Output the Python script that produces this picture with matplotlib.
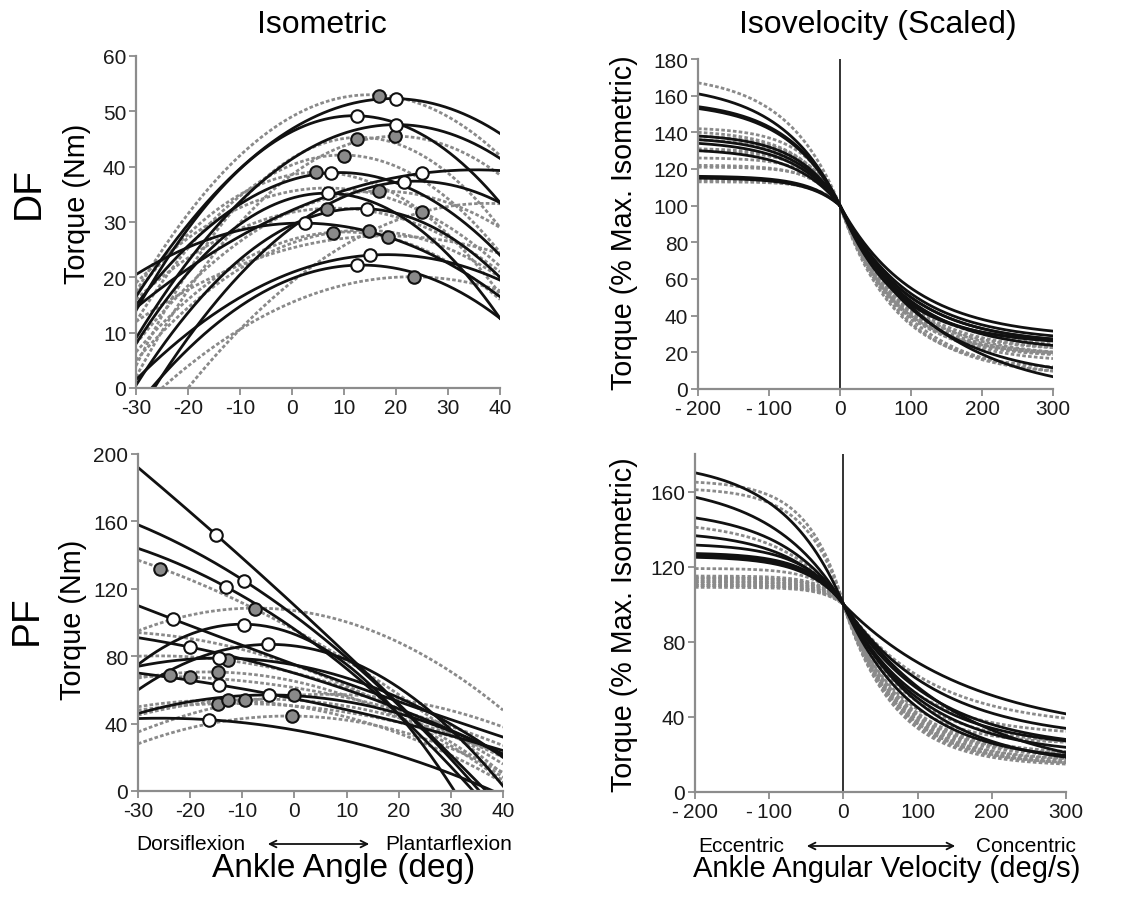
import numpy as np
import matplotlib
matplotlib.use('Agg')
import matplotlib.pyplot as plt

plt.rcParams['font.family'] = ['Liberation Sans', 'DejaVu Sans']
plt.rcParams['axes.unicode_minus'] = False

# ---- isometric curves: three points (x, torque) ----
df_solid = [
    [(-30, 16.5), (20, 52.3), (40, 46.0)],
    [(-30, 14.0), (12.5, 49.2), (40, 33.5)],
    [(-30, 9.0), (20, 47.6), (40, 41.5)],
    [(-30, 15.0), (7.5, 38.9), (40, 24.0)],
    [(-30, 14.5), (25, 38.8), (40, 39.3)],
    [(-26.5, 0), (21.5, 37.3), (40, 33.5)],
    [(-30, 8.0), (7, 35.2), (40, 12.6)],
    [(-30, 0.5), (14.5, 32.4), (40, 20.0)],
    [(-30, 20.5), (2.5, 29.8), (40, 16.5)],
    [(-30, 1.5), (15, 24.0), (40, 19.5)],
    [(-27, 0), (12.5, 22.2), (40, 12.6)],
]
df_dashed = [
    [(-30, 17.4), (15, 53.0), (40, 42.0)],
    [(-30, 4.0), (13, 45.3), (40, 29.0)],
    [(-30, 2.0), (20, 45.5), (40, 38.5)],
    [(-30, 12.0), (12, 42.0), (40, 24.5)],
    [(-30, 17.0), (5, 39.0), (40, 17.0)],
    [(-30, 8.0), (17, 35.6), (40, 29.0)],
    [(-30, 16.0), (8, 32.5), (40, 21.0)],
    [(-20, 0), (25, 31.8), (40, 33.3)],
    [(-30, 6.5), (10, 28.2), (40, 16.0)],
    [(-30, 5.0), (14, 28.5), (40, 20.0)],
    [(-30, 12.0), (18, 27.5), (40, 24.3)],
    [(-25, 0), (23, 20.1), (40, 17.6)],
    [(-30, 19.0), (10, 36.0), (40, 22.0)],
]
df_open_x = [20, 12.5, 20, 7.5, 21.5, 25, 7, 14.5, 2.5, 15, 12.5]
df_open_y = [52.3, 49.2, 47.6, 38.9, 37.3, 38.8, 35.2, 32.4, 29.8, 24.0, 22.2]
df_fill_x = [16.7, 12.5, 19.8, 10, 4.7, 16.8, 6.8, 25, 7.9, 14.8, 18.5, 23.5]
df_fill_y = [52.8, 45.0, 45.5, 42.0, 39.0, 35.6, 32.4, 31.8, 28.1, 28.3, 27.2, 20.0]

pf_solid = [
    [(-30, 192), (-15, 152), (36.8, 0)],
    [(-30, 158), (-9.7, 124.9), (35.5, 0)],
    [(-30, 144), (-13.2, 121.3), (34.3, 0)],
    [(-30, 110), (-23.3, 102), (40, 32)],
    [(-30, 75), (-10, 99), (30.7, 0)],
    [(-30, 91), (-20, 85.4), (40, 22)],
    [(-30, 60), (-5.1, 87), (40, 3)],
    [(-30, 74), (-14.5, 78.9), (40, 20)],
    [(-30, 70), (-14.5, 63), (40, 24)],
    [(-30, 46), (-5, 57), (40, 21.4)],
    [(-30, 43), (-16.4, 42.3), (38.1, 0)],
]
pf_dashed = [
    [(-30, 137), (-7.6, 108), (40, 10)],
    [(-30, 95), (-3, 108), (40, 48)],
    [(-30, 80), (-12.7, 77.5), (40, 16)],
    [(-30, 67), (-14.7, 70.6), (40, 6)],
    [(-30, 48), (-14.7, 51.8), (40, 22)],
    [(-30, 45), (-9.5, 54.3), (40, 20)],
    [(-30, 35), (-0.1, 56.7), (40, 38)],
    [(-30, 28), (-0.5, 44.5), (40, 11)],
    [(-30, 94), (-10, 84), (40, 8)],
    [(-30, 68), (-20.1, 67.6), (40, 27)],
    [(-30, 50), (-12.7, 53.8), (40, 5)],
]
pf_open_x = [-15, -9.7, -13.2, -23.3, -9.7, -20, -5.1, -14.5, -14.5, -4.9, -16.4]
pf_open_y = [152, 124.9, 121.3, 102, 98.8, 85.4, 87, 78.9, 63, 56.7, 42.3]
pf_fill_x = [-25.7, -7.6, -12.7, -23.8, -20.1, -14.7, -14.7, -12.7, -9.5, -0.1, -0.5]
pf_fill_y = [131.8, 108.1, 77.5, 68.6, 67.6, 70.6, 51.8, 53.8, 54.3, 56.7, 44.5]

# ---- isovelocity curves: % of isometric read at -200, -100, 100, 200 deg/s ----
dfv_solid_m200 = [161, 154, 153, 138, 136, 134, 130, 116, 115]
dfv_solid_m100 = [147, 143, 142, 132, 130, 128, 125, 114.5, 113.5]
dfv_solid_p100 = [55, 50, 48, 46, 45, 44, 47, 50, 52]
dfv_solid_p200 = [38, 33, 30, 31, 19, 21, 31, 33, 35]
dfv_dash_m200 = [167, 142, 140, 138, 136, 131, 130, 126, 122, 121, 114, 113]
dfv_dash_m100 = [153, 137, 134, 133, 131, 128, 127, 124, 120.5, 120, 113, 112.5]
dfv_dash_p100 = [44, 40, 42, 38, 45, 41, 36, 43, 39, 47, 35, 40]
dfv_dash_p200 = [26, 22, 25, 17, 28, 24, 16, 27, 23, 30, 17, 24]

pfv_solid_m200 = [170, 157, 146, 136.5, 131.5, 127, 125, 126]
pfv_solid_m100 = [154, 142, 135, 129, 127, 124, 122, 123]
pfv_solid_p100 = [69, 60, 55, 52, 50, 56, 45, 48]
pfv_solid_p200 = [51.5, 42, 36, 34, 31, 33, 26, 27]
pfv_dash_m200 = [165, 161, 141, 119, 115, 114, 113, 112, 111, 110, 109, 110, 112, 114]
pfv_dash_m100 = [158, 154, 132, 118, 114.5, 113.5, 112.5, 111.5, 110.5, 109.6, 108.7, 109.6, 111.5, 113.5]
pfv_dash_p100 = [62, 52, 48, 44, 42, 40, 39, 37, 36, 35, 34, 36.5, 38, 41]
pfv_dash_p200 = [46, 37, 32, 30, 26, 24.5, 23.5, 21.5, 20.5, 19.5, 18.5, 20, 22, 25]

vel_ticks = [-200, -100, 0, 100, 200, 300]
vel_labels = ['-\u2009200', '-\u2009100', '0', '100', '200', '300']

W, H = 1132, 904
BLACK = '#111111'
GRAY = '#8a8a8a'
SPINE = '#8c8c8c'


def quad(pts, x):
    xs = [p[0] for p in pts]
    ys = [p[1] for p in pts]
    c = np.polyfit(xs, ys, 2)
    return np.polyval(c, x)


def isovel(m200, m100, p100, p200, v):
    # eccentric side rises to a plateau, concentric side decays (Hill-like)
    q = (m200 - 100) / (m100 - 100) - 1
    w = (m100 - 100) / (1 - q)
    r = (100 - p200) / (100 - p100) - 1
    u = (100 - p100) / (1 - r)
    y = np.where(v < 0, 100 + w * (1 - q ** (-v / 100.0)),
                 100 - u * (1 - r ** (v / 100.0)))
    return y


def make_ax(fig, l, r, t, b):
    ax = fig.add_axes([l / W, 1 - b / H, (r - l) / W, (b - t) / H])
    for s in ['top', 'right']:
        ax.spines[s].set_visible(False)
    for s in ['left', 'bottom']:
        ax.spines[s].set_color(SPINE)
        ax.spines[s].set_linewidth(1.6)
    ax.tick_params(direction='out', length=5, width=1.3, color=SPINE,
                   labelsize=15, labelcolor='#1a1a1a', pad=2)
    return ax


fig = plt.figure(figsize=(W / 100, H / 100), dpi=100)

dash_style = dict(color=GRAY, lw=2.0, linestyle=(0, (1.3, 0.8)))
solid_style = dict(color=BLACK, lw=2.0)
mk = dict(marker='o', ms=9, mec=BLACK, mew=1.5, linestyle='none', zorder=5)

# top-left: DF isometric
xa = np.linspace(-30, 40, 300)
ax1 = make_ax(fig, 136, 500, 57, 389)
for pts in df_dashed:
    ax1.plot(xa, quad(pts, xa), **dash_style)
for pts in df_solid:
    ax1.plot(xa, quad(pts, xa), **solid_style)
ax1.plot(df_fill_x, df_fill_y, mfc=GRAY, **mk)
ax1.plot(df_open_x, df_open_y, mfc='white', **mk)
ax1.set_xlim(-30, 40)
ax1.set_ylim(0, 60)
ax1.set_xticks(range(-30, 41, 10))
ax1.set_yticks(range(0, 61, 10))

# bottom-left: PF isometric
ax2 = make_ax(fig, 138, 503, 455, 792)
for pts in pf_dashed:
    ax2.plot(xa, quad(pts, xa), **dash_style)
for pts in pf_solid:
    ax2.plot(xa, quad(pts, xa), **solid_style)
ax2.plot(pf_fill_x, pf_fill_y, mfc=GRAY, **mk)
ax2.plot(pf_open_x, pf_open_y, mfc='white', **mk)
ax2.set_xlim(-30, 40)
ax2.set_ylim(0, 200)
ax2.set_xticks(range(-30, 41, 10))
ax2.set_yticks(range(0, 201, 40))

# top-right: DF isovelocity
va = np.linspace(-200, 300, 600)
ax3 = make_ax(fig, 698, 1053, 60, 390)
for i in range(len(dfv_dash_m200)):
    ax3.plot(va, isovel(dfv_dash_m200[i], dfv_dash_m100[i], dfv_dash_p100[i], dfv_dash_p200[i], va), **dash_style)
for i in range(len(dfv_solid_m200)):
    ax3.plot(va, isovel(dfv_solid_m200[i], dfv_solid_m100[i], dfv_solid_p100[i], dfv_solid_p200[i], va), **solid_style)
ax3.axvline(0, color=BLACK, lw=1.2)
ax3.set_xlim(-200, 300)
ax3.set_ylim(0, 180)
ax3.set_xticks(vel_ticks)
ax3.set_xticklabels(vel_labels)
ax3.set_yticks(range(0, 181, 20))

# bottom-right: PF isovelocity
ax4 = make_ax(fig, 695, 1066, 455, 793)
for i in range(len(pfv_dash_m200)):
    ax4.plot(va, isovel(pfv_dash_m200[i], pfv_dash_m100[i], pfv_dash_p100[i], pfv_dash_p200[i], va), **dash_style)
for i in range(len(pfv_solid_m200)):
    ax4.plot(va, isovel(pfv_solid_m200[i], pfv_solid_m100[i], pfv_solid_p100[i], pfv_solid_p200[i], va), **solid_style)
ax4.axvline(0, color=BLACK, lw=1.2)
ax4.set_xlim(-200, 300)
ax4.set_ylim(0, 180)
ax4.set_xticks(vel_ticks)
ax4.set_xticklabels(vel_labels)
ax4.set_yticks(range(0, 161, 40))


def ftext(x, y, s, **kw):
    fig.text(x / W, 1 - y / H, s, **kw)


ftext(322, 25, 'Isometric', fontsize=23, ha='center', va='center')
ftext(878, 25, 'Isovelocity (Scaled)', fontsize=23, ha='center', va='center')
ftext(29, 193, 'DF', fontsize=28, rotation=90, ha='center', va='center')
ftext(27, 620, 'PF', fontsize=28, rotation=90, ha='center', va='center')
ftext(77, 204, 'Torque (Nm)', fontsize=20.8, rotation=90, ha='center', va='center')
ftext(73, 620, 'Torque (Nm)', fontsize=20.8, rotation=90, ha='center', va='center')
ftext(624, 223, 'Torque (% Max. Isometric)', fontsize=20.6, rotation=90, ha='center', va='center')
ftext(624, 625, 'Torque (% Max. Isometric)', fontsize=20.6, rotation=90, ha='center', va='center')

ftext(136, 845, 'Dorsiflexion', fontsize=15, ha='left', va='center')
ftext(512, 845, 'Plantarflexion', fontsize=15, ha='right', va='center')
ftext(344, 869, 'Ankle Angle (deg)', fontsize=24, ha='center', va='center')
ftext(698, 847, 'Eccentric', fontsize=15, ha='left', va='center')
ftext(1076, 847, 'Concentric', fontsize=15, ha='right', va='center')
ftext(887, 869, 'Ankle Angular Velocity (deg/s)', fontsize=21, ha='center', va='center')

for x0, x1, y0 in [(265, 372, 845), (804, 958, 847)]:
    fig.add_artist(matplotlib.patches.FancyArrowPatch(
        (x0 / W, 1 - y0 / H), (x1 / W, 1 - y0 / H), transform=fig.transFigure,
        arrowstyle='<->', mutation_scale=12, lw=1.3, color=BLACK))

fig.savefig('out.png', dpi=100)
